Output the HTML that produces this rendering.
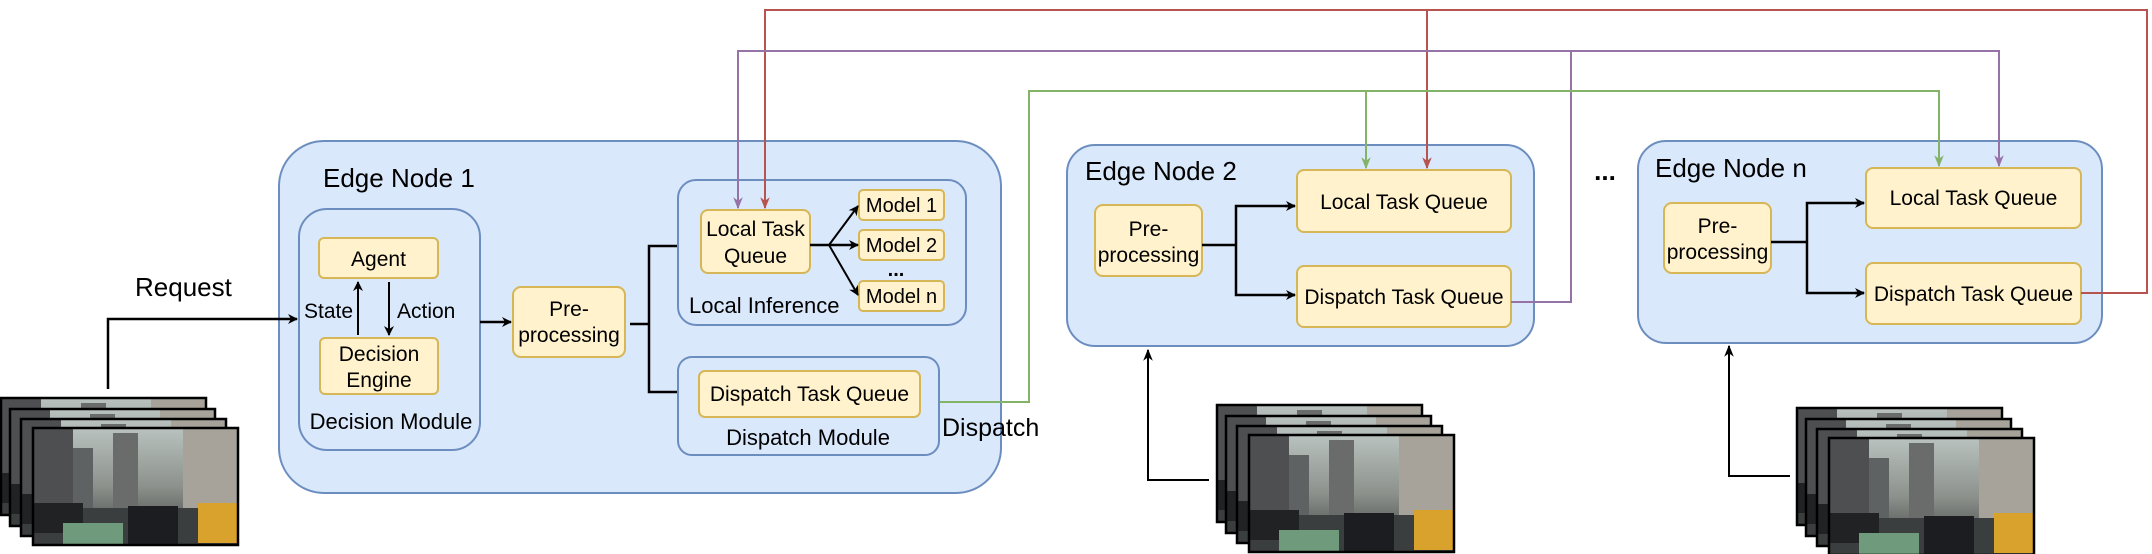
<!DOCTYPE html>
<html><head><meta charset="utf-8"><style>
html,body{margin:0;padding:0;background:#fff;}
svg{display:block;}
text{font-family:"Liberation Sans",Arial,sans-serif;fill:#000;}
</style></head><body>
<svg width="2152" height="554" viewBox="0 0 2152 554" xmlns="http://www.w3.org/2000/svg">
<defs>
<marker id="ab" viewBox="0 0 10 10" refX="9" refY="5" markerWidth="10" markerHeight="10" orient="auto" markerUnits="userSpaceOnUse">
<path d="M0,0 L10,5 L0,10 L3,5 z" fill="#000"/></marker>
<marker id="ar" viewBox="0 0 10 10" refX="9" refY="5" markerWidth="12" markerHeight="12" orient="auto" markerUnits="userSpaceOnUse">
<path d="M0,1 L10,5 L0,9 L3,5 z" fill="#b85450"/></marker>
<marker id="ap" viewBox="0 0 10 10" refX="9" refY="5" markerWidth="12" markerHeight="12" orient="auto" markerUnits="userSpaceOnUse">
<path d="M0,1 L10,5 L0,9 L3,5 z" fill="#9673a6"/></marker>
<marker id="ag" viewBox="0 0 10 10" refX="9" refY="5" markerWidth="12" markerHeight="12" orient="auto" markerUnits="userSpaceOnUse">
<path d="M0,1 L10,5 L0,9 L3,5 z" fill="#82b366"/></marker>
<marker id="ak" viewBox="0 0 10 10" refX="9" refY="5" markerWidth="12" markerHeight="12" orient="auto" markerUnits="userSpaceOnUse">
<path d="M0,1 L10,5 L0,9 L3,5 z" fill="#000"/></marker>
<linearGradient id="sky" x1="0" y1="0" x2="0" y2="1">
<stop offset="0" stop-color="#b9c2bf"/><stop offset="0.5" stop-color="#8c918c"/><stop offset="1" stop-color="#3a3d3c"/></linearGradient>
<symbol id="img" viewBox="0 0 205 117">
<rect x="0" y="0" width="205" height="117" fill="url(#sky)"/>
<rect x="0" y="0" width="40" height="117" fill="#4e4f50"/>
<rect x="150" y="0" width="55" height="100" fill="#a7a39a"/>
<rect x="80" y="5" width="25" height="80" fill="#6a6c6c"/>
<rect x="40" y="20" width="20" height="70" fill="#5e6262"/>
<rect x="0" y="80" width="205" height="37" fill="#3b3e3e"/>
<rect x="0" y="75" width="50" height="30" fill="#202224"/>
<rect x="95" y="78" width="50" height="39" fill="#1c1d20"/>
<rect x="165" y="75" width="40" height="40" fill="#d9a22c"/>
<rect x="30" y="95" width="60" height="22" fill="#6f9a7b"/>
</symbol>
<g id="stack">
<rect x="0" y="0" width="205" height="117" fill="#fff"/><use href="#img" x="0" y="0" width="205" height="117"/><rect x="0" y="0" width="205" height="117" fill="none" stroke="#000" stroke-width="2.5"/>
<rect x="9" y="11" width="205" height="117" fill="#fff"/><use href="#img" x="9" y="11" width="205" height="117"/><rect x="9" y="11" width="205" height="117" fill="none" stroke="#000" stroke-width="2.5"/>
<rect x="20" y="21" width="205" height="117" fill="#fff"/><use href="#img" x="20" y="21" width="205" height="117"/><rect x="20" y="21" width="205" height="117" fill="none" stroke="#000" stroke-width="2.5"/>
<rect x="32" y="30" width="205" height="117" fill="#fff"/><use href="#img" x="32" y="30" width="205" height="117"/><rect x="32" y="30" width="205" height="117" fill="none" stroke="#000" stroke-width="2.5"/>
</g>
</defs>

<use href="#stack" x="1" y="398"/>
<use href="#stack" x="1217" y="405"/>
<use href="#stack" x="1797" y="408"/>

<rect x="279" y="141" width="722" height="352" rx="45" fill="#dae8fc" stroke="#6c8ebf" stroke-width="2"/>
<text x="323" y="187" font-size="26">Edge Node 1</text>
<rect x="299" y="209" width="181" height="241" rx="28" fill="#dae8fc" stroke="#6c8ebf" stroke-width="2"/>
<rect x="319" y="238" width="119" height="40" rx="5" fill="#fff2cc" stroke="#d6b656" stroke-width="2"/>
<text x="378.5" y="266" font-size="21" text-anchor="middle">Agent</text>
<rect x="320" y="338" width="118" height="56" rx="5" fill="#fff2cc" stroke="#d6b656" stroke-width="2"/>
<text x="379" y="361" font-size="21" text-anchor="middle">Decision</text>
<text x="379" y="387" font-size="21" text-anchor="middle">Engine</text>
<line x1="358" y1="335" x2="358" y2="282" stroke="#000" stroke-width="2" marker-end="url(#ab)"/>
<line x1="389" y1="282" x2="389" y2="335" stroke="#000" stroke-width="2" marker-end="url(#ab)"/>
<text x="304" y="318" font-size="21">State</text>
<text x="397" y="318" font-size="21">Action</text>
<text x="391" y="429" font-size="22" text-anchor="middle">Decision Module</text>

<text x="135" y="296" font-size="26">Request</text>
<polyline points="108,389 108,319 297,319" fill="none" stroke="#000" stroke-width="2.5" marker-end="url(#ab)"/>

<rect x="513" y="287" width="112" height="70" rx="8" fill="#fff2cc" stroke="#d6b656" stroke-width="2"/>
<text x="569" y="316" font-size="21" text-anchor="middle">Pre-</text>
<text x="569" y="342" font-size="21" text-anchor="middle">processing</text>
<line x1="480" y1="322" x2="511" y2="322" stroke="#000" stroke-width="2.5" marker-end="url(#ab)"/>
<polyline points="630,324 649,324" fill="none" stroke="#000" stroke-width="2.5"/>
<polyline points="699,246 649,246 649,392 698,392" fill="none" stroke="#000" stroke-width="2.5"/>
<line x1="690" y1="246" x2="699" y2="246" stroke="#000" stroke-width="2.5" marker-end="url(#ab)"/>
<line x1="690" y1="392" x2="698" y2="392" stroke="#000" stroke-width="2.5" marker-end="url(#ab)"/>

<rect x="678" y="180" width="288" height="145" rx="18" fill="#dae8fc" stroke="#6c8ebf" stroke-width="2"/>
<rect x="701" y="210" width="109" height="63" rx="7" fill="#fff2cc" stroke="#d6b656" stroke-width="2"/>
<text x="755.5" y="236" font-size="21" text-anchor="middle">Local Task</text>
<text x="755.5" y="263" font-size="21" text-anchor="middle">Queue</text>
<rect x="859" y="190" width="85" height="30" rx="4" fill="#fff2cc" stroke="#d6b656" stroke-width="2"/>
<text x="901.5" y="212" font-size="20" text-anchor="middle">Model 1</text>
<rect x="859" y="230" width="85" height="30" rx="4" fill="#fff2cc" stroke="#d6b656" stroke-width="2"/>
<text x="901.5" y="252" font-size="20" text-anchor="middle">Model 2</text>
<rect x="859" y="281" width="85" height="30" rx="4" fill="#fff2cc" stroke="#d6b656" stroke-width="2"/>
<text x="901.5" y="303" font-size="20" text-anchor="middle">Model n</text>
<text x="896" y="276" font-size="20" font-weight="bold" text-anchor="middle">...</text>
<line x1="810" y1="245" x2="829" y2="245" stroke="#000" stroke-width="2.5"/>
<line x1="829" y1="245" x2="858" y2="206" stroke="#000" stroke-width="2" marker-end="url(#ab)"/>
<line x1="829" y1="245" x2="858" y2="245" stroke="#000" stroke-width="2.5" marker-end="url(#ab)"/>
<line x1="829" y1="245" x2="858" y2="295" stroke="#000" stroke-width="2" marker-end="url(#ab)"/>
<text x="689" y="313" font-size="22">Local Inference</text>

<rect x="678" y="357" width="261" height="98" rx="14" fill="#dae8fc" stroke="#6c8ebf" stroke-width="2"/>
<rect x="699" y="371" width="221" height="46" rx="6" fill="#fff2cc" stroke="#d6b656" stroke-width="2"/>
<text x="809.5" y="401" font-size="21" text-anchor="middle">Dispatch Task Queue</text>
<text x="808" y="445" font-size="22" text-anchor="middle">Dispatch Module</text>
<text x="942" y="436" font-size="25">Dispatch</text>

<rect x="1067" y="145" width="467" height="201" rx="28" fill="#dae8fc" stroke="#6c8ebf" stroke-width="2"/>
<text x="1085" y="180" font-size="26">Edge Node 2</text>
<rect x="1297" y="170" width="214" height="62" rx="7" fill="#fff2cc" stroke="#d6b656" stroke-width="2"/>
<text x="1404" y="209" font-size="21" text-anchor="middle">Local Task Queue</text>
<rect x="1297" y="266" width="214" height="61" rx="7" fill="#fff2cc" stroke="#d6b656" stroke-width="2"/>
<text x="1404" y="304" font-size="21" text-anchor="middle">Dispatch Task Queue</text>
<rect x="1095" y="205" width="107" height="71" rx="8" fill="#fff2cc" stroke="#d6b656" stroke-width="2"/>
<text x="1148.5" y="236" font-size="21" text-anchor="middle">Pre-</text>
<text x="1148.5" y="262" font-size="21" text-anchor="middle">processing</text>
<polyline points="1202,245 1236,245" fill="none" stroke="#000" stroke-width="2.5"/>
<polyline points="1295,206 1236,206 1236,295 1295,295" fill="none" stroke="#000" stroke-width="2.5"/>
<line x1="1285" y1="206" x2="1295" y2="206" stroke="#000" stroke-width="2.5" marker-end="url(#ab)"/>
<line x1="1285" y1="295" x2="1295" y2="295" stroke="#000" stroke-width="2.5" marker-end="url(#ab)"/>

<text x="1605" y="180" font-size="26" font-weight="bold" text-anchor="middle">...</text>

<rect x="1638" y="141" width="464" height="202" rx="28" fill="#dae8fc" stroke="#6c8ebf" stroke-width="2"/>
<text x="1655" y="177" font-size="26">Edge Node n</text>
<rect x="1866" y="168" width="215" height="60" rx="7" fill="#fff2cc" stroke="#d6b656" stroke-width="2"/>
<text x="1973.5" y="205" font-size="21" text-anchor="middle">Local Task Queue</text>
<rect x="1866" y="263" width="215" height="61" rx="7" fill="#fff2cc" stroke="#d6b656" stroke-width="2"/>
<text x="1973.5" y="301" font-size="21" text-anchor="middle">Dispatch Task Queue</text>
<rect x="1664" y="203" width="107" height="70" rx="8" fill="#fff2cc" stroke="#d6b656" stroke-width="2"/>
<text x="1717.5" y="233" font-size="21" text-anchor="middle">Pre-</text>
<text x="1717.5" y="259" font-size="21" text-anchor="middle">processing</text>
<polyline points="1771,242 1807,242" fill="none" stroke="#000" stroke-width="2.5"/>
<polyline points="1864,203 1807,203 1807,293 1864,293" fill="none" stroke="#000" stroke-width="2.5"/>
<line x1="1855" y1="203" x2="1864" y2="203" stroke="#000" stroke-width="2.5" marker-end="url(#ab)"/>
<line x1="1855" y1="293" x2="1864" y2="293" stroke="#000" stroke-width="2.5" marker-end="url(#ab)"/>

<polyline points="1209,480 1148,480 1148,350" fill="none" stroke="#000" stroke-width="2" marker-end="url(#ak)"/>
<polyline points="1790,476 1729,476 1729,346" fill="none" stroke="#000" stroke-width="2" marker-end="url(#ak)"/>

<polyline points="2081,293 2147,293 2147,10 765,10 765,208" fill="none" stroke="#b85450" stroke-width="2" marker-end="url(#ar)"/>
<line x1="1427" y1="10" x2="1427" y2="168" stroke="#b85450" stroke-width="2" marker-end="url(#ar)"/>
<polyline points="1511,302 1571,302 1571,51 738,51 738,208" fill="none" stroke="#9673a6" stroke-width="2" marker-end="url(#ap)"/>
<polyline points="1571,51 1999,51 1999,166" fill="none" stroke="#9673a6" stroke-width="2" marker-end="url(#ap)"/>
<polyline points="940,402 1029,402 1029,91 1939,91 1939,166" fill="none" stroke="#82b366" stroke-width="2" marker-end="url(#ag)"/>
<line x1="1366" y1="91" x2="1366" y2="168" stroke="#82b366" stroke-width="2" marker-end="url(#ag)"/>
</svg>
</body></html>
